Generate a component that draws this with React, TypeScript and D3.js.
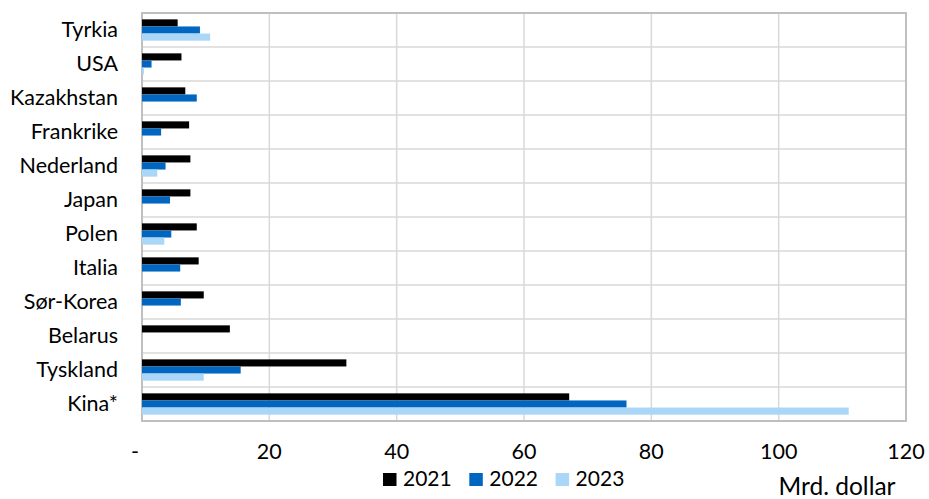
import React from "react";
import * as d3 from "d3";

const categories = ["Tyrkia", "USA", "Kazakhstan", "Frankrike", "Nederland", "Japan", "Polen", "Italia", "Sør-Korea", "Belarus", "Tyskland", "Kina*"];
const seriesNames = ["2021", "2022", "2023"];
const values2021 = [5.6, 6.2, 6.8, 7.4, 7.6, 7.6, 8.6, 8.9, 9.7, 13.8, 32.1, 67.1];
const values2022 = [9.1, 1.5, 8.6, 3.0, 3.7, 4.4, 4.6, 6.0, 6.1, 0, 15.5, 76.1];
const values2023 = [10.7, 0.3, 0, 0, 2.4, 0, 3.5, 0, 0, 0, 9.7, 111.0];
const xTicks = [0, 20, 40, 60, 80, 100, 120];
const xTickLabels = ["-", "20", "40", "60", "80", "100", "120"];
const colors = ["#000000", "#0066C0", "#AAD6F8"];
const unitLabel = "Mrd. dollar";

export default function App() {
  const W = 929, H = 499;
  const left = 142, right = 906, top = 13, bottom = 421;
  const x = d3.scaleLinear().domain([0, 120]).range([left, right]);
  const y = d3.scaleBand<string>().domain(categories).range([top, bottom]).paddingInner(0).paddingOuter(0);
  const series = [values2021, values2022, values2023];
  const bw = y.bandwidth();
  const inner = d3.scaleBand<string>().domain(seriesNames).range([bw * 0.187, bw * 0.813]);
  const font = "Lato, 'Open Sans', sans-serif";
  return (
    <svg width={W} height={H} style={{ position: "absolute", left: 0, top: 0 }} fontFamily={font}>
      <rect x={0} y={0} width={W} height={H} fill="#fff" />
      {categories.map((c, i) => (i > 0 ? (
        <line key={"h" + c} x1={left} x2={right} y1={y(c)!} y2={y(c)!} stroke="#D9D9D9" strokeWidth={1.5} />
      ) : null))}
      {xTicks.slice(1, -1).map(t => (
        <line key={"v" + t} x1={x(t)} x2={x(t)} y1={top} y2={bottom} stroke="#D9D9D9" strokeWidth={1.5} />
      ))}
      <rect x={left} y={top} width={right - left} height={bottom - top} fill="none" stroke="#BFBFBF" strokeWidth={2} />
      {categories.map((c, i) => seriesNames.map((s, j) => {
        const v = series[j][i];
        if (!v) return null;
        return <rect key={c + s} x={x(0)} y={y(c)! + inner(s)!} width={x(v) - x(0)} height={inner.bandwidth()} fill={colors[j]} />;
      }))}
      {categories.map(c => (
        <text key={"l" + c} x={118} y={y(c)! + bw / 2 + 7} textAnchor="end" fontSize={21.5} fill="#000">{c}</text>
      ))}
      {xTicks.map((t, i) => (
        <text key={"t" + t} x={x(t)} y={459} textAnchor="middle" fontSize={21.5} fill="#000" dx={i === 0 ? -7 : 0}>{xTickLabels[i]}</text>
      ))}
      {seriesNames.map((s, j) => {
        const lx = 383 + j * 86.3;
        return (
          <g key={"lg" + s}>
            <rect x={lx} y={473} width={13.5} height={13} fill={colors[j]} />
            <text x={lx + 20} y={486} fontSize={21} fill="#000">{s}</text>
          </g>
        );
      })}
      <text x={837} y={495} textAnchor="middle" fontSize={24.5} fill="#000">{unitLabel}</text>
    </svg>
  );
}
